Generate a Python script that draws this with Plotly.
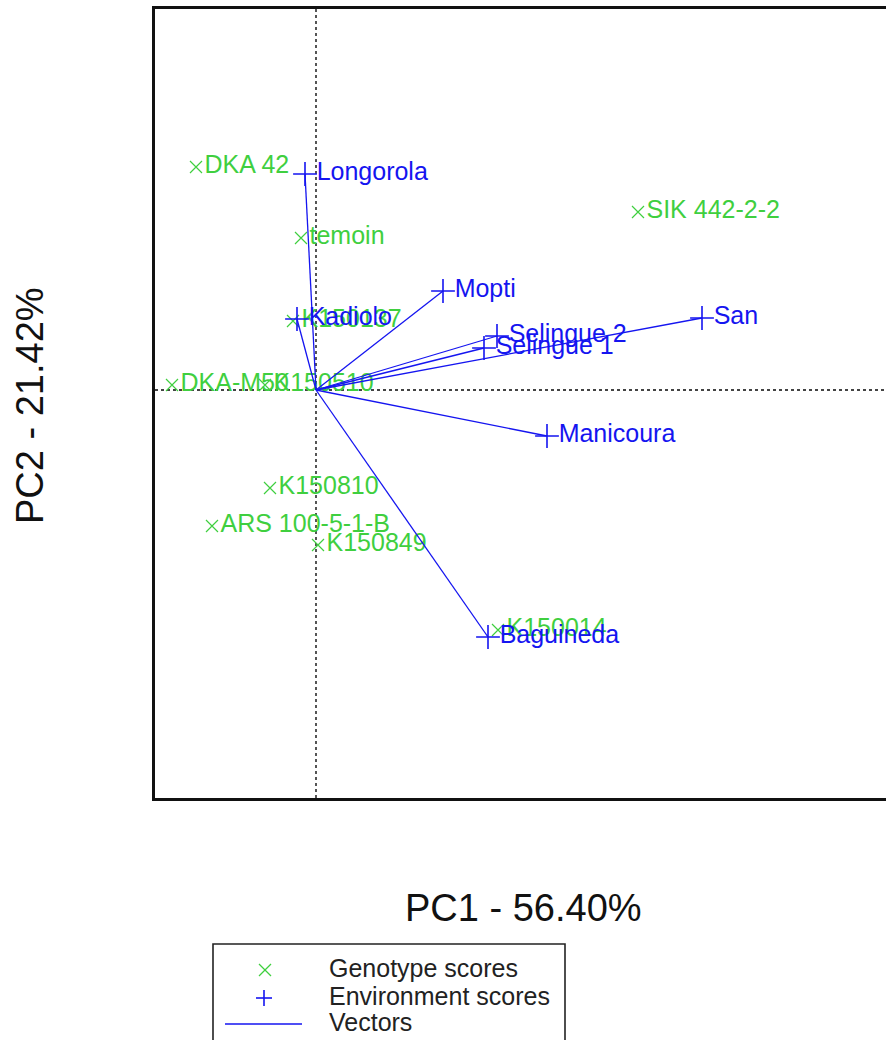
import plotly.graph_objects as go

# ---- data (PC1, PC2 scores) ----
geno_names = ["DKA 42", "temoin", "SIK 442-2-2", "K150137", "DKA-M50", "K150510",
              "K150810", "ARS 100-5-1-B", "K150849", "K150014"]
geno_pc1 = [-1.20, -0.15, 3.22, -0.23, -1.44, -0.51, -0.46, -1.04, 0.02, 1.82]
geno_pc2 = [2.23, 1.52, 1.78, 0.69, 0.05, 0.05, -0.98, -1.36, -1.55, -2.40]

env_names = ["Longorola", "Kadiolo", "Mopti", "Selingue 2", "Selingue 1", "San",
             "Manicoura", "Baguineda"]
env_pc1 = [-0.11, -0.19, 1.27, 1.81, 1.68, 3.86, 2.31, 1.72]
env_pc2 = [2.16, 0.71, 0.99, 0.54, 0.42, 0.72, -0.46, -2.47]

x_title = "PC1 - 56.40%"
y_title = "PC2 - 21.42%"
legend_labels = ["Genotype scores", "Environment scores", "Vectors"]

GREEN = "#3fcf3f"
BLUE = "#1515f0"
FONT = "Liberation Sans, Arial, sans-serif"

W, H = 886, 1040
L, R, T, B = 155, 886, 9, 798


def px(x):
    return (x - L) / (R - L)


def py(y):
    return (B - y) / (B - T)


fig = go.Figure()

fig.add_trace(go.Scatter(
    x=geno_pc1, y=geno_pc2, text=geno_names, mode="markers+text",
    textposition="middle right",
    marker=dict(symbol="x-thin-open", size=12, color=GREEN, line=dict(color=GREEN, width=1.2)),
    textfont=dict(color=GREEN, size=25, family=FONT),
    showlegend=False, cliponaxis=False))

fig.add_trace(go.Scatter(
    x=env_pc1, y=env_pc2, text=env_names, mode="markers+text",
    textposition="middle right",
    marker=dict(symbol="cross-thin-open", size=17, color=BLUE, line=dict(color=BLUE, width=1.6)),
    textfont=dict(color=BLUE, size=25, family=FONT),
    showlegend=False, cliponaxis=False))

vx, vy = [], []
for a, b in zip(env_pc1, env_pc2):
    vx += [0, a, None]
    vy += [0, b, None]
fig.add_trace(go.Scatter(x=vx, y=vy, mode="lines",
                         line=dict(color=BLUE, width=1.3), showlegend=False))

shapes = [
    dict(type="line", xref="x", yref="paper", x0=0, x1=0, y0=0, y1=1,
         line=dict(color="#444444", width=1.8, dash="dot"), layer="below"),
    dict(type="line", xref="paper", yref="y", x0=0, x1=1, y0=0, y1=0,
         line=dict(color="#444444", width=1.8, dash="dot"), layer="below"),
    # legend box
    dict(type="rect", xref="paper", yref="paper", x0=px(213), x1=px(565),
         y0=py(944), y1=py(1080), line=dict(color="#222222", width=1.6)),
    # legend x symbol
    dict(type="line", xref="paper", yref="paper", x0=px(259), x1=px(271),
         y0=py(964), y1=py(976), line=dict(color=GREEN, width=1.2)),
    dict(type="line", xref="paper", yref="paper", x0=px(259), x1=px(271),
         y0=py(976), y1=py(964), line=dict(color=GREEN, width=1.2)),
    # legend + symbol
    dict(type="line", xref="paper", yref="paper", x0=px(256), x1=px(272),
         y0=py(998), y1=py(998), line=dict(color=BLUE, width=1.6)),
    dict(type="line", xref="paper", yref="paper", x0=px(264), x1=px(264),
         y0=py(990), y1=py(1006), line=dict(color=BLUE, width=1.6)),
    # legend line
    dict(type="line", xref="paper", yref="paper", x0=px(225), x1=px(302),
         y0=py(1024), y1=py(1024), line=dict(color=BLUE, width=1.6)),
]

annotations = [
    dict(text=x_title, xref="paper", yref="paper", x=px(523), y=py(908),
         showarrow=False, xanchor="center", yanchor="middle",
         font=dict(size=38, color="#111111", family=FONT)),
    dict(text=y_title, xref="paper", yref="paper", x=px(30), y=py(405),
         showarrow=False, xanchor="center", yanchor="middle", textangle=-90,
         font=dict(size=38, color="#111111", family=FONT)),
]
for lab, yy in zip(legend_labels, [968, 996, 1022]):
    annotations.append(dict(text=lab, xref="paper", yref="paper", x=px(327), y=py(yy),
                            showarrow=False, xanchor="left", yanchor="middle",
                            font=dict(size=25, color="#222222", family=FONT)))

fig.update_layout(
    width=W, height=H,
    margin=dict(l=L, r=W - R, t=T, b=H - B, pad=0),
    plot_bgcolor="white", paper_bgcolor="white",
    shapes=shapes, annotations=annotations, showlegend=False,
    xaxis=dict(range=[-1.61, 5.70], showgrid=False, zeroline=False, showticklabels=False,
               ticks="", showline=True, mirror=True, linecolor="#111111", linewidth=3),
    yaxis=dict(range=[-4.08, 3.81], showgrid=False, zeroline=False, showticklabels=False,
               ticks="", showline=True, mirror=False, linecolor="#111111", linewidth=3),
)

fig.write_html("out.html", config={"displayModeBar": False},
               post_script="document.body.style.margin='0';document.body.style.padding='0';")
